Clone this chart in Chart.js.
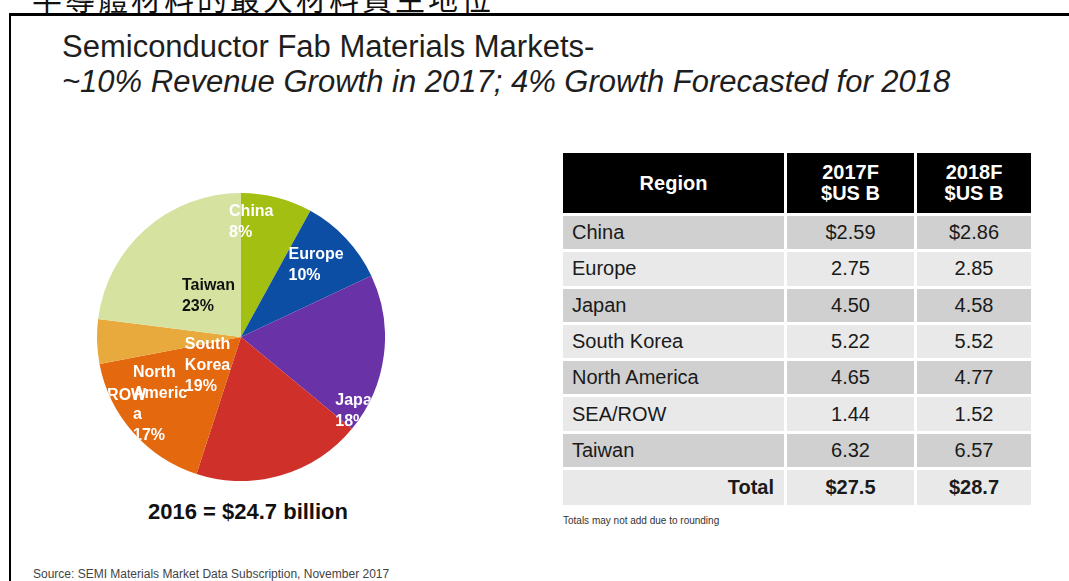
<!DOCTYPE html>
<html>
<head>
<meta charset="utf-8">
<script src="https://cdn.jsdelivr.net/npm/chart.js@4"></script>
<style>
  body { margin: 0; background: #fff; width: 1069px; height: 581px; overflow: hidden; position: relative; font-family: "Liberation Sans", Arial, sans-serif; }
  #cjk { position: absolute; left: 32px; top: -18px; font-family: "Noto Sans CJK TC", sans-serif; font-size: 30px; line-height: 30px; letter-spacing: 3px; color: #111; white-space: nowrap; }
  #frame { position: absolute; left: 9px; top: 13px; width: 1100px; height: 600px; border-left: 2px solid #000; border-top: 3px solid #000; }
  .title { position: absolute; left: 62px; font-size: 31px; color: #1e1e1e; white-space: nowrap; }
  #t1 { top: 29px; }
  #t2 { top: 64px; font-style: italic; }
  #pieBox { position: absolute; left: 97px; top: 193px; width: 288px; height: 288px; }
  #total2016 { position: absolute; left: 98px; width: 300px; top: 499px; text-align: center; font-weight: bold; font-size: 22px; color: #111; }
  #tbl { position: absolute; left: 563px; top: 153px; border-collapse: separate; border-spacing: 0; }
  #tbl td, #tbl th { border-right: 3px solid #fff; border-bottom: 3px solid #fff; padding: 0; font-size: 20px; color: #1a1a1a; }
  #tbl th { background: #000; color: #fff; font-weight: bold; height: 60px; line-height: 21px; }
  #tbl td { height: 33.3px; }
  #tbl td.num { text-align: center; }
  #tbl td.name { padding-left: 9px; }
  #tbl tr.dark td { background: #d0d0d0; }
  #tbl tr.light td { background: #e9e9e9; }
  #tbl tr.total td { font-weight: bold; height: 35px; }
  #note { position: absolute; left: 563px; top: 515px; font-size: 10px; color: #333; }
  #source { position: absolute; left: 33px; top: 567px; font-size: 12px; color: #444; }
</style>
</head>
<body>
<div id="cjk">半導體材料的最大材料買主地位</div>
<div id="frame"></div>
<div class="title" id="t1">Semiconductor Fab Materials Markets-</div>
<div class="title" id="t2">~10% Revenue Growth in 2017; 4% Growth Forecasted for 2018</div>
<div id="pieBox"><canvas id="pie"></canvas></div>
<div id="total2016">2016 = $24.7 billion</div>
<table id="tbl"><thead></thead><tbody></tbody></table>
<div id="note">Totals may not add due to rounding</div>
<div id="source">Source: SEMI Materials Market Data Subscription, November 2017</div>
<script>
// data
const regions = ["China", "Europe", "Japan", "South Korea", "North America", "SEA/ROW", "Taiwan"];
const share2016 = [8, 10, 18, 19, 17, 5, 23];
const rev2017 = [2.59, 2.75, 4.50, 5.22, 4.65, 1.44, 6.32];
const rev2018 = [2.86, 2.85, 4.58, 5.52, 4.77, 1.52, 6.57];
const totals = [27.5, 28.7];
const headers = ["Region", "2017F<br>$US B", "2018F<br>$US B"];

const sliceColors = ["#a2bf12", "#0c4ea4", "#6933a7", "#d0302a", "#e3680e", "#e8aa3c", "#d5e2a0"];

// label text inside the pie (as printed on the slide)
const sliceLabels = [
  ["China", "8%"],
  ["Europe", "10%"],
  ["Japan", "18%"],
  ["South", "Korea", "19%"],
  ["North", "Americ", "a", "17%"],
  ["ROW"],
  ["Taiwan", "23%"]
];
const labelColors = ["#fff", "#fff", "#fff", "#fff", "#fff", "#fff", "#111"];
// label anchor, as fraction of radius from the pie centre
const labelOffsets = [
  [-0.083, -0.87], [0.33, -0.57], [0.655, 0.44], [-0.39, 0.05],
  [-0.75, 0.25], [-0.93, 0.405], [-0.41, -0.355]
];

// Build table
const thead = document.querySelector("#tbl thead");
const widths = [224, 130, 117];
thead.innerHTML = "<tr>" + headers.map((h, i) => `<th style="width:${widths[i] - 3}px">${h}</th>`).join("") + "</tr>";

const tbody = document.querySelector("#tbl tbody");
regions.forEach((r, i) => {
  const tr = document.createElement("tr");
  tr.className = i % 2 === 0 ? "dark" : "light";
  const pre = i === 0 ? "$" : "";
  tr.innerHTML = `
    <td class="name">${r}</td>
    <td class="num">${pre}${rev2017[i].toFixed(2)}</td>
    <td class="num">${pre}${rev2018[i].toFixed(2)}</td>`;
  tbody.appendChild(tr);
});
const totalRow = document.createElement("tr");
totalRow.className = "light total";
totalRow.innerHTML = `
  <td style="text-align:right;padding-right:10px">Total</td>
  <td class="num">$${totals[0].toFixed(1)}</td>
  <td class="num">$${totals[1].toFixed(1)}</td>`;
tbody.appendChild(totalRow);

// slice labels, clipped to the pie like the slide text boxes
const sliceText = {
  id: "sliceText",
  afterDatasetsDraw(chart) {
    const ctx = chart.ctx;
    const arcs = chart.getDatasetMeta(0).data;
    if (!arcs.length) return;
    const { x, y, outerRadius } = arcs[0].getProps(["x", "y", "outerRadius"], true);
    ctx.save();
    ctx.beginPath();
    ctx.arc(x, y, outerRadius, 0, Math.PI * 2);
    ctx.clip();
    ctx.font = "bold 16px 'Liberation Sans', Arial, sans-serif";
    ctx.textAlign = "left";
    ctx.textBaseline = "middle";
    sliceLabels.forEach((lines, i) => {
      const lx = x + labelOffsets[i][0] * outerRadius;
      const ly = y + labelOffsets[i][1] * outerRadius;
      ctx.fillStyle = labelColors[i];
      lines.forEach((t, j) => ctx.fillText(t, lx, ly + j * 21));
    });
    ctx.restore();
  }
};

new Chart(document.getElementById("pie"), {
  type: "pie",
  data: {
    labels: regions,
    datasets: [{
      data: share2016,
      backgroundColor: sliceColors,
      borderWidth: 0
    }]
  },
  options: {
    responsive: true,
    maintainAspectRatio: false,
    animation: false,
    layout: { padding: 0 },
    plugins: { legend: { display: false }, tooltip: { enabled: false } }
  },
  plugins: [sliceText]
});
</script>
</body>
</html>
